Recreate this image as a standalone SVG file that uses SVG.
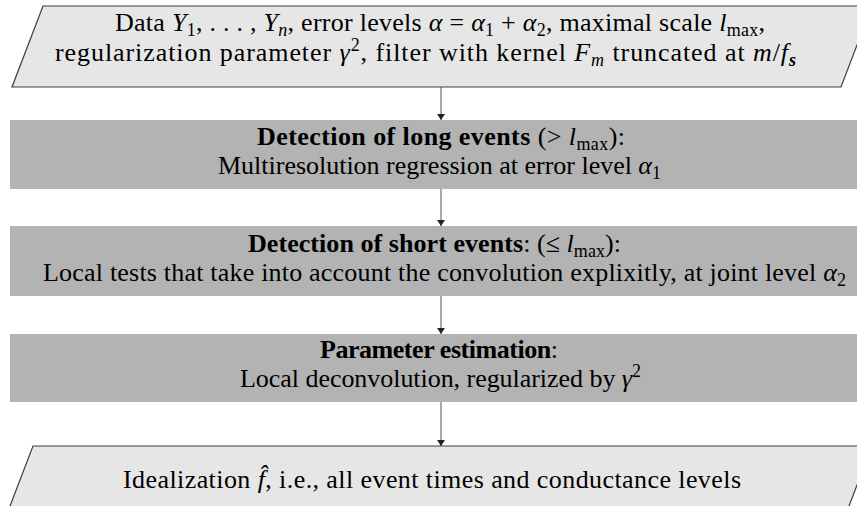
<svg xmlns="http://www.w3.org/2000/svg" width="857" height="506" viewBox="0 0 857 506">
<defs>
<style>
text{font-family:'Liberation Serif','Times New Roman',serif;font-size:26px;fill:#000}
.i{font-style:italic}
.b{font-weight:bold}
.s{font-size:18px}
.io{fill:#e6e6e6;stroke:#3c3c3c;stroke-width:1.2}
.pr{fill:#b3b3b3}
.c{stroke:#3c3c3c;stroke-width:0.9;fill:none}
</style>
<marker id="ah" viewBox="0 0 6 8" refX="6" refY="4" markerWidth="6" markerHeight="8" markerUnits="userSpaceOnUse" orient="auto">
<path d="M0,0 L6,4 L0,8 Z" fill="#222"/>
</marker>
</defs>
<g id="input">
<polygon class="io" points="43,6 872,6 841,87 12,87"/>
<text x="115" y="31" textLength="650" lengthAdjust="spacing">Data <tspan class="i">Y</tspan><tspan class="s" dy="5">1</tspan><tspan dy="-5">, . . . , </tspan><tspan class="i">Y</tspan><tspan class="s i" dy="5">n</tspan><tspan dy="-5">, error levels </tspan><tspan class="i">α</tspan> = <tspan class="i">α</tspan><tspan class="s" dy="5">1</tspan><tspan dy="-5"> + </tspan><tspan class="i">α</tspan><tspan class="s" dy="5">2</tspan><tspan dy="-5">, maximal scale </tspan><tspan class="i">l</tspan><tspan class="s" dy="5">max</tspan><tspan dy="-5">,</tspan></text>
<text x="55" y="61" textLength="741" lengthAdjust="spacing">regularization parameter <tspan class="i">γ</tspan><tspan class="s" dy="-10">2</tspan><tspan dy="10">, filter with kernel </tspan><tspan class="i">F</tspan><tspan class="s i" dy="5">m</tspan><tspan dy="-5"> truncated at </tspan><tspan class="i">m</tspan>/<tspan class="i">f</tspan><tspan class="s i b" dy="5">s</tspan></text>
</g>
<g id="long">
<rect class="pr" x="10" y="120" width="863" height="69"/>
<text x="257" y="145" textLength="368" lengthAdjust="spacing"><tspan class="b">Detection of long events</tspan> (&gt; <tspan class="i">l</tspan><tspan class="s" dy="5">max</tspan><tspan dy="-5">):</tspan></text>
<text x="218" y="174" textLength="443" lengthAdjust="spacing">Multiresolution regression at error level <tspan class="i">α</tspan><tspan class="s" dy="5">1</tspan></text>
</g>
<g id="short">
<rect class="pr" x="10" y="226" width="863" height="70"/>
<text x="248" y="252" textLength="373" lengthAdjust="spacing"><tspan class="b">Detection of short events</tspan>: (≤ <tspan class="i">l</tspan><tspan class="s" dy="5">max</tspan><tspan dy="-5">):</tspan></text>
<text x="43" y="281" textLength="803" lengthAdjust="spacing">Local tests that take into account the convolution explixitly, at joint level <tspan class="i">α</tspan><tspan class="s" dy="5">2</tspan></text>
</g>
<g id="param">
<rect class="pr" x="10" y="334" width="863" height="68"/>
<text x="320" y="358" textLength="238" lengthAdjust="spacing"><tspan class="b">Parameter estimation</tspan>:</text>
<text x="240" y="387" textLength="401" lengthAdjust="spacing">Local deconvolution, regularized by <tspan class="i">γ</tspan><tspan class="s" dy="-10">2</tspan></text>
</g>
<g id="output">
<polygon class="io" points="33,446 872,446 841,527 2,527"/>
<text x="123" y="488" textLength="618" lengthAdjust="spacing">Idealization <tspan class="i">f̂</tspan>, i.e., all event times and conductance levels</text>
</g>
<g id="connectors">
<line class="c" x1="441" y1="87" x2="441" y2="120" marker-end="url(#ah)"/>
<line class="c" x1="441" y1="189" x2="441" y2="226" marker-end="url(#ah)"/>
<line class="c" x1="441" y1="296" x2="441" y2="334" marker-end="url(#ah)"/>
<line class="c" x1="441" y1="402" x2="441" y2="446" marker-end="url(#ah)"/>
</g>
</svg>
